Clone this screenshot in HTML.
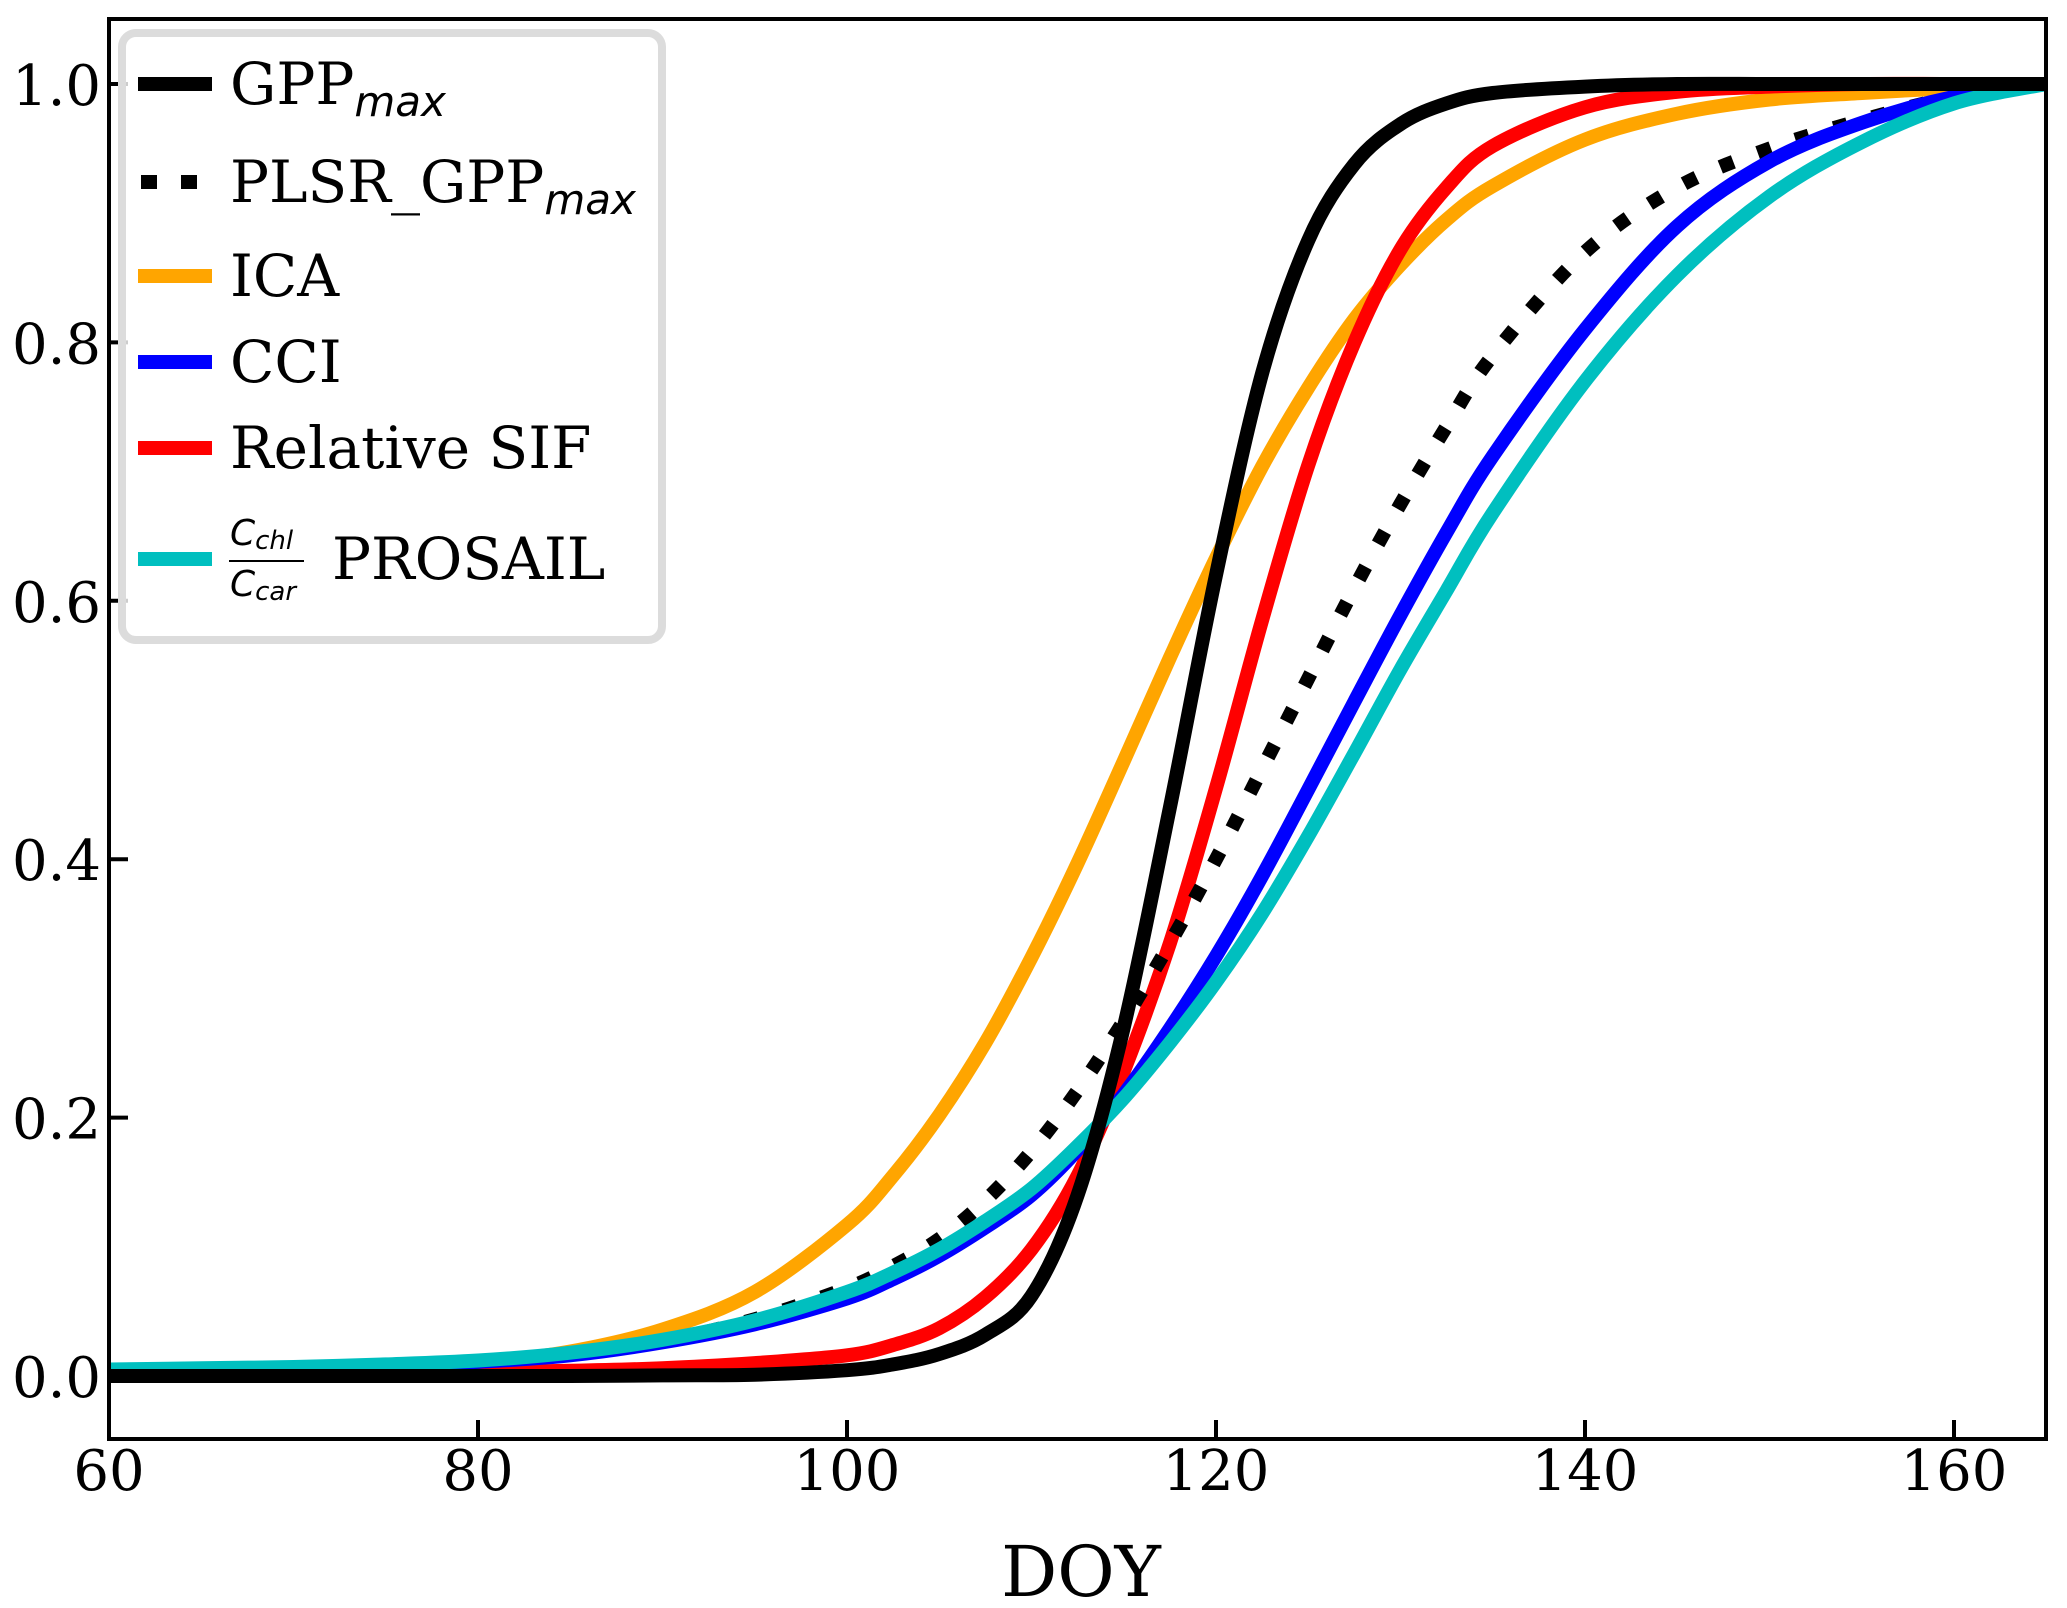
<!DOCTYPE html>
<html><head><meta charset="utf-8">
<style>
html,body{margin:0;padding:0;background:#fff;}
svg{display:block;}
text{font-family:"DejaVu Serif","Liberation Serif",serif;fill:#000;}
.it{font-family:"DejaVu Sans","Liberation Sans",sans-serif;font-style:italic;}
</style></head>
<body>
<svg id="chart" width="2067" height="1608" viewBox="0 0 2067 1608">
  <defs><clipPath id="plotclip"><rect x="109" y="19" width="1937" height="1420"/></clipPath></defs>
  <g id="series" clip-path="url(#plotclip)"></g>
  <g id="axes"></g>
  <g id="legend">
    <rect x="122" y="33" width="540" height="607" rx="14" fill="rgba(255,255,255,0.8)" stroke="#dcdcdc" stroke-width="8"/>
    <line x1="138" y1="84" x2="212" y2="84" stroke="#000" stroke-width="14"/>
    <text x="230" y="104" font-size="58">GPP<tspan class="it" font-size="42" dy="12">max</tspan></text>
    <line x1="141" y1="182" x2="212" y2="182" stroke="#000" stroke-width="14" stroke-dasharray="16 24"/>
    <text x="230" y="202" font-size="58">PLSR_GPP<tspan class="it" font-size="42" dy="12">max</tspan></text>
    <line x1="138" y1="276" x2="212" y2="276" stroke="#ffa500" stroke-width="14"/>
    <text x="230" y="296" font-size="58">ICA</text>
    <line x1="138" y1="362" x2="212" y2="362" stroke="#0000ff" stroke-width="14"/>
    <text x="230" y="382" font-size="58">CCI</text>
    <line x1="138" y1="448" x2="212" y2="448" stroke="#ff0000" stroke-width="14"/>
    <text x="230" y="468" font-size="58">Relative SIF</text>
    <line x1="138" y1="559" x2="212" y2="559" stroke="#00bfbf" stroke-width="14"/>
    <text class="it" x="230" y="545" font-size="36">C<tspan font-size="26" dy="4">chl</tspan></text>
    <line x1="229" y1="561" x2="304" y2="561" stroke="#000" stroke-width="2"/>
    <text class="it" x="230" y="596" font-size="36">C<tspan font-size="26" dy="4">car</tspan></text>
    <text x="332" y="579" font-size="58">PROSAIL</text>
  </g>
</svg>
<script>
const doy = [60,65,70,75,80,85,90,95,100,102.5,105,107.5,110,112.5,115,117.5,120,122.5,125,127.5,130,132.5,135,140,145,150,155,160,165];
const gppMax  = [0,0,0,0,0,0,0.0005,0.001,0.0045,0.009,0.017,0.032,0.062,0.14,0.27,0.44,0.62,0.776,0.879,0.938,0.969,0.985,0.993,0.998,1,1,1,1,1];
const plsrGpp = [0.004,0.005,0.006,0.008,0.011,0.017,0.027,0.044,0.068,0.085,0.106,0.136,0.174,0.221,0.275,0.335,0.40,0.47,0.54,0.61,0.675,0.735,0.79,0.87,0.92,0.95,0.972,0.99,1];
const ica     = [0.001,0.0015,0.003,0.0055,0.01,0.019,0.036,0.065,0.117,0.155,0.202,0.258,0.324,0.397,0.476,0.556,0.633,0.704,0.765,0.818,0.86,0.895,0.921,0.957,0.977,0.988,0.993,0.997,1];
const cci     = [0.004,0.005,0.006,0.008,0.011,0.016,0.026,0.04,0.06,0.075,0.093,0.115,0.14,0.175,0.218,0.269,0.325,0.387,0.454,0.522,0.589,0.653,0.712,0.81,0.89,0.94,0.97,0.99,1];
const sif     = [0.001,0.001,0.002,0.002,0.003,0.004,0.006,0.01,0.016,0.024,0.037,0.061,0.098,0.155,0.236,0.335,0.455,0.585,0.705,0.80,0.872,0.92,0.952,0.982,0.994,0.998,1,1,1];
const prosail = [0.005,0.006,0.007,0.009,0.012,0.018,0.028,0.043,0.065,0.08,0.098,0.12,0.145,0.178,0.215,0.258,0.305,0.358,0.418,0.482,0.547,0.608,0.668,0.77,0.852,0.913,0.955,0.985,1];
const xTicks = [60,80,100,120,140,160];
const yTicks = [0.0,0.2,0.4,0.6,0.8,1.0];
const yTickLabels = ["0.0","0.2","0.4","0.6","0.8","1.0"];

const NS = "http://www.w3.org/2000/svg";
const X0 = 109, X1 = 2046, Y0 = 19, Y1 = 1439;
function xs(d){ return 109 + (d - 60) * 18.45; }
function ys(v){ return 1376 - v * 1292; }
function mk(tag, attrs, parent){ const e = document.createElementNS(NS, tag); for (const k in attrs) e.setAttribute(k, attrs[k]); parent.appendChild(e); return e; }

function pathFor(vals){
  const p = doy.map((d,i)=>[xs(d), ys(vals[i])]);
  let s = "M" + p[0][0].toFixed(1) + "," + p[0][1].toFixed(1);
  for (let i=0;i<p.length-1;i++){
    const a=p[Math.max(i-1,0)], b=p[i], c=p[i+1], d=p[Math.min(i+2,p.length-1)];
    const c1=[b[0]+(c[0]-a[0])/6, b[1]+(c[1]-a[1])/6];
    const c2=[c[0]-(d[0]-b[0])/6, c[1]-(d[1]-b[1])/6];
    s += " C"+c1[0].toFixed(1)+","+c1[1].toFixed(1)+" "+c2[0].toFixed(1)+","+c2[1].toFixed(1)+" "+c[0].toFixed(1)+","+c[1].toFixed(1);
  }
  return s;
}
const sg = document.getElementById("series");
const seriesDefs = [
  [prosail, "#00bfbf", null, "prosail-line"],
  [cci, "#0000ff", null, "cci-line"],
  [plsrGpp, "#000", "14 26", "plsr-gpp-line"],
  [ica, "#ffa500", null, "ica-line"],
  [sif, "#ff0000", null, "sif-line"],
  [gppMax, "#000", null, "gpp-max-line"]
];
const order = [3,4,2,1,0,5];
for (const i of order){
  const s = seriesDefs[i];
  const el = mk("path", {d: pathFor(s[0]), fill:"none", stroke:s[1], "stroke-width":14, "stroke-linejoin":"round"}, sg);
  if (s[2]) el.setAttribute("stroke-dasharray", s[2]);
  
  
}

const ax = document.getElementById("axes");
const frame = mk("rect", {x:X0, y:Y0, width:X1-X0, height:Y1-Y0, fill:"none", stroke:"#000", "stroke-width":4}, ax);


xTicks.forEach(t=>{
  const x = xs(t);
  const tk = mk("line", {x1:x, y1:Y1, x2:x, y2:Y1-19, stroke:"#000", "stroke-width":4}, ax);
  
  
  const lb = mk("text", {x:x, y:1490, "font-size":56, "text-anchor":"middle"}, ax);
  lb.textContent = t;
  
  
});
yTicks.forEach((t,i)=>{
  const y = ys(t);
  const tk = mk("line", {x1:X0, y1:y, x2:X0+19, y2:y, stroke:"#000", "stroke-width":4}, ax);
  
  
  const lb = mk("text", {x:101, y:y+21, "font-size":56, "text-anchor":"end"}, ax);
  lb.textContent = yTickLabels[i];
  
  
});
const xt = mk("text", {x:1081, y:1596, "font-size":70, "text-anchor":"middle"}, ax);
xt.textContent = "DOY";


</script>
</body></html>
